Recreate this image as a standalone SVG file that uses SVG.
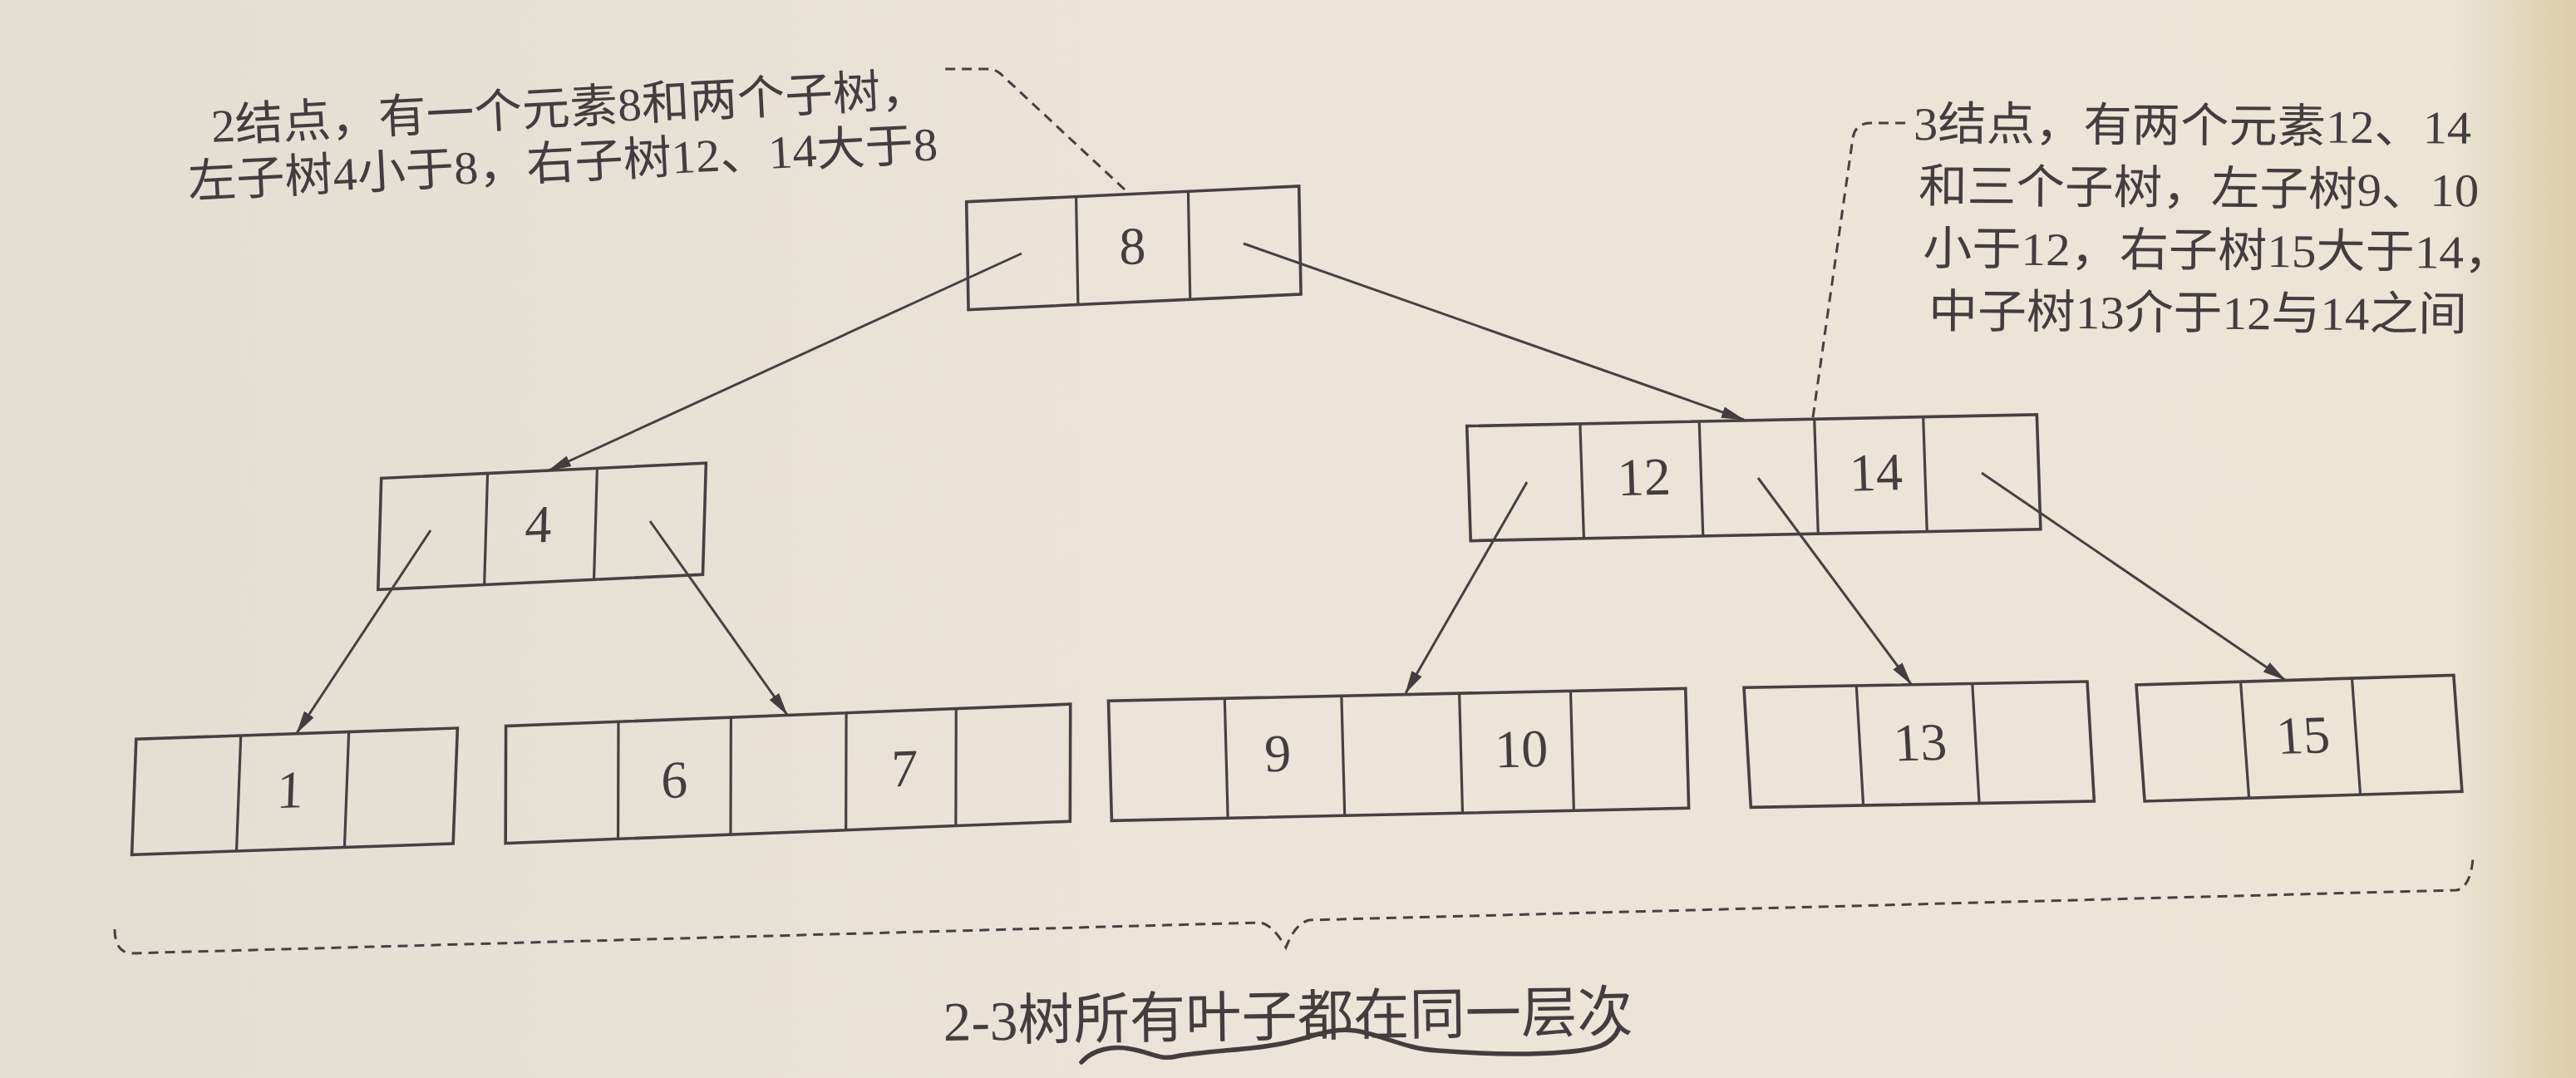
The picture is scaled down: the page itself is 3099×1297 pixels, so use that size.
<svg xmlns="http://www.w3.org/2000/svg" width="3099" height="1297" viewBox="0 0 3099 1297">
<defs>
 <linearGradient id="bg" x1="0" y1="0" x2="1" y2="0">
  <stop offset="0" stop-color="#e3ded2"/>
  <stop offset="0.5" stop-color="#eae5d8"/>
  <stop offset="0.95" stop-color="#ebe5d6"/>
  <stop offset="1" stop-color="#dccdab"/>
 </linearGradient>
 <marker id="ah" markerUnits="userSpaceOnUse" markerWidth="28" markerHeight="16" viewBox="0 0 28 16" refX="27" refY="8" orient="auto">
  <path d="M0,1 L28,8 L0,15 z" fill="#433d3f"/>
 </marker>
 <style>
  .box{fill:none;stroke:#464042;stroke-width:3.6}
  .div{fill:none;stroke:#464042;stroke-width:3.2}
  .num{font-family:"Liberation Serif",serif;font-size:64px;fill:#433d3f;text-anchor:middle}
  .edge{stroke:#464042;stroke-width:3;fill:none;marker-end:url(#ah)}
  .dash{stroke:#464042;stroke-width:3;fill:none;stroke-dasharray:12 8}
  .note{font-family:"Liberation Serif","Noto Sans CJK SC",sans-serif;font-size:56px;fill:#433d3f}
  .cap{font-family:"Liberation Serif","Noto Sans CJK SC",sans-serif;font-size:67px;fill:#433d3f}
 </style>
</defs>
<rect x="0" y="0" width="3099" height="1297" fill="url(#bg)"/>

<g id="node-8" transform="matrix(0.999,-0.0467,0.018,1,1162.7,242.7)">
 <rect class="box" x="0" y="0" width="400.4" height="130"/>
 <path class="div" d="M132,0V130M267,0V130"/>
 <text class="num" x="198.6" y="84">8</text>
</g>
<g id="node-4" transform="matrix(0.9989,-0.0465,-0.029,1,458.7,575.4)">
 <rect class="box" x="0" y="0" width="391.1" height="134"/>
 <path class="div" d="M128,0V134M260,0V134"/>
 <text class="num" x="191" y="86">4</text>
</g>
<g id="node-1" transform="matrix(0.9994,-0.0344,-0.0375,1,163.8,889.3)">
 <rect class="box" x="0" y="0" width="386.8" height="139"/>
 <path class="div" d="M126,0V139M256,0V139"/>
 <text class="num" x="188" y="89">1</text>
</g>
<g id="node-6-7" transform="matrix(0.9992,-0.0388,-0.003,1,608.6,873.6)">
 <rect class="box" x="0" y="0" width="679.7" height="141"/>
 <path class="div" d="M135.5,0V141M271,0V141M409.8,0V141M542.1,0V141"/>
 <text class="num" x="203" y="94">6</text>
 <text class="num" x="480" y="91">7</text>
</g>
<g id="node-9-10" transform="matrix(0.9998,-0.0216,0.027,1,1333.5,843.3)">
 <rect class="box" x="0" y="0" width="694.4" height="144"/>
 <path class="div" d="M139.8,0V144M280.4,0V144M422.2,0V144M556.1,0V144"/>
 <text class="num" x="202" y="89">9</text>
 <text class="num" x="495" y="90">10</text>
</g>
<g id="node-13" transform="matrix(0.9998,-0.0177,0.058,1,2098,827.3)">
 <rect class="box" x="0" y="0" width="413.1" height="144"/>
 <path class="div" d="M135.3,0V144M274.8,0V144"/>
 <text class="num" x="208" y="91">13</text>
</g>
<g id="node-15" transform="matrix(0.9995,-0.0306,0.072,1,2570,824)">
 <rect class="box" x="0" y="0" width="382" height="140"/>
 <path class="div" d="M125.6,0V140M259.6,0V140"/>
 <text class="num" x="196" y="88">15</text>
</g>
<g id="node-12-14" transform="matrix(0.9998,-0.0201,0.033,1,1764.7,512.6)">
 <rect class="box" x="0" y="0" width="685.8" height="138"/>
 <path class="div" d="M136.2,0V138M279.6,0V138M418.1,0V138M549.1,0V138"/>
 <text class="num" x="211" y="87">12</text>
 <text class="num" x="490" y="87">14</text>
</g>

<g id="connectors">
 <path class="edge" d="M1229,305 L660,566"/>
 <path class="edge" d="M1496,293 L2098,505"/>
 <path class="edge" d="M518,638 L357,882"/>
 <path class="edge" d="M782,627 L947,860"/>
 <path class="edge" d="M1837,580 L1691,834"/>
 <path class="edge" d="M2115,575 L2299,823"/>
 <path class="edge" d="M2384,569 L2749,818"/>
 <path class="dash" d="M1353,228 L1204,89 Q1197,83 1188,83 L1130,83"/>
 <path class="dash" d="M2181,502 L2229,166 Q2232,148 2250,148 L2298,148"/>
 <path class="dash" d="M138,1118 Q138,1145 157,1147 L1515,1110 Q1530,1111 1547,1140 Q1558,1111 1575,1107 L2955,1071 Q2972,1068 2975,1033"/>
</g>

<g id="note-2node">
 <text class="note" transform="translate(255,171) rotate(-2.95)" textLength="864" lengthAdjust="spacingAndGlyphs">2结点，有一个元素8和两个子树，</text>
 <text class="note" transform="translate(227,238) rotate(-2.9)" textLength="903" lengthAdjust="spacingAndGlyphs">左子树4小于8，右子树12、14大于8</text>
</g>
<g id="note-3node">
 <text class="note" transform="translate(2302,168) rotate(0.4)" textLength="671" lengthAdjust="spacingAndGlyphs">3结点，有两个元素12、14</text>
 <text class="note" transform="translate(2308,243) rotate(0.45)" textLength="674" lengthAdjust="spacingAndGlyphs">和三个子树，左子树9、10</text>
 <text class="note" transform="translate(2313,318) rotate(0.4)" textLength="710" lengthAdjust="spacingAndGlyphs">小于12，右子树15大于14，</text>
 <text class="note" transform="translate(2320,394) rotate(0.3)" textLength="648" lengthAdjust="spacingAndGlyphs">中子树13介于12与14之间</text>
</g>
<g id="caption">
 <text class="cap" transform="translate(1135,1252) rotate(-0.8)" textLength="830" lengthAdjust="spacingAndGlyphs">2-3树所有叶子都在同一层次</text>
 <path d="M1301,1278 C1315,1262 1340,1258 1360,1262 C1385,1266 1395,1276 1415,1271 C1450,1264 1500,1264 1540,1256 C1580,1248 1600,1236 1630,1240 C1660,1244 1690,1262 1730,1264 C1780,1268 1830,1270 1880,1266 C1920,1263 1940,1258 1948,1236" fill="none" stroke="#433d3f" stroke-width="5.5" stroke-linecap="round"/>
</g>
</svg>
